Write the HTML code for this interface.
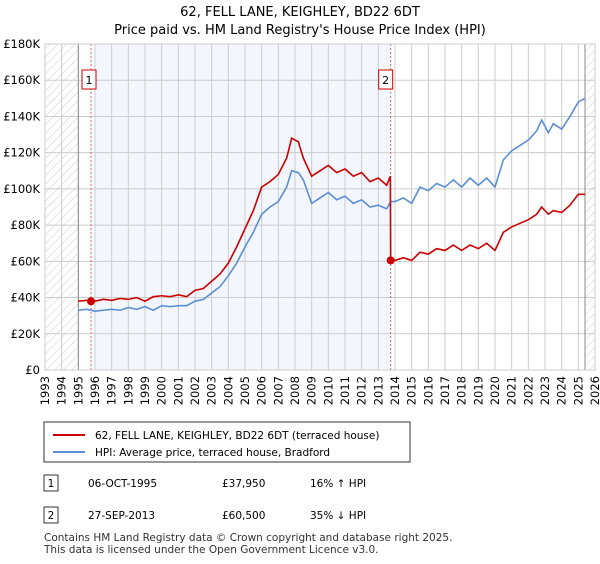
<!DOCTYPE html>
<html><head><meta charset="utf-8"><style>
body{margin:0;background:#fff;font-family:"DejaVu Sans","Liberation Sans",sans-serif;}
svg text{font-family:"DejaVu Sans","Liberation Sans",sans-serif;}
</style></head><body>
<svg id="c" width="600" height="560" xmlns="http://www.w3.org/2000/svg">
<defs><pattern id="h" width="6" height="6" patternUnits="userSpaceOnUse" patternTransform="rotate(45)"><line x1="0" y1="0" x2="0" y2="6" stroke="#ccc" stroke-width="1"/></pattern></defs>
<text x="300" y="16" text-anchor="middle" font-size="13">62, FELL LANE, KEIGHLEY, BD22 6DT</text>
<text x="300" y="34" text-anchor="middle" font-size="13">Price paid vs. HM Land Registry's House Price Index (HPI)</text>
<g id="plot"></g>
<g>
<rect x="44" y="422" width="366" height="40" fill="#fff" stroke="#333"/>
<line x1="53" y1="435" x2="85" y2="435" stroke="#cc0000" stroke-width="2"/>
<text x="95" y="439" font-size="10.5">62, FELL LANE, KEIGHLEY, BD22 6DT (terraced house)</text>
<line x1="53" y1="452" x2="85" y2="452" stroke="#5b8fd4" stroke-width="2"/>
<text x="95" y="456" font-size="10.5">HPI: Average price, terraced house, Bradford</text>
</g>
<g font-size="10.5">
<rect x="44" y="475" width="14" height="16" fill="#fff" stroke="#333"/><text x="51" y="487" text-anchor="middle">1</text>
<text x="88" y="487">06-OCT-1995</text><text x="222" y="487">£37,950</text><text x="310" y="487">16% ↑ HPI</text>
<rect x="44" y="507" width="14" height="16" fill="#fff" stroke="#333"/><text x="51" y="519" text-anchor="middle">2</text>
<text x="88" y="519">27-SEP-2013</text><text x="222" y="519">£60,500</text><text x="310" y="519">35% ↓ HPI</text>
</g>
<text x="44" y="541" font-size="10.5" fill="#333">Contains HM Land Registry data © Crown copyright and database right 2025.</text>
<text x="44" y="553" font-size="10.5" fill="#333">This data is licensed under the Open Government Licence v3.0.</text>
</svg>
<script>
const yTicks=[0,20,40,60,80,100,120,140,160,180];
const years=[1993,1994,1995,1996,1997,1998,1999,2000,2001,2002,2003,2004,2005,2006,2007,2008,2009,2010,2011,2012,2013,2014,2015,2016,2017,2018,2019,2020,2021,2022,2023,2024,2025,2026];
const hpiX=[1995,1995.5,1996,1996.5,1997,1997.5,1998,1998.5,1999,1999.5,2000,2000.5,2001,2001.5,2002,2002.5,2003,2003.5,2004,2004.5,2005,2005.5,2006,2006.5,2007,2007.5,2007.8,2008.2,2008.5,2009,2009.5,2010,2010.5,2011,2011.5,2012,2012.5,2013,2013.5,2013.74,2014,2014.5,2015,2015.5,2016,2016.5,2017,2017.5,2018,2018.5,2019,2019.5,2020,2020.5,2021,2021.5,2022,2022.5,2022.8,2023.2,2023.5,2024,2024.5,2025,2025.4];
const hpiY=[33,33.5,32.5,33,33.5,33,34.5,33.5,35,33,35.5,35,35.5,35.5,38,39,42.5,46,52,59,68,76,86,90,93,101,110,109,105,92,95,98,94,96,92,94,90,91,89,93,93,95,92,101,99,103,101,105,101,106,102,106,101,116,121,124,127,132,138,131,136,133,140,148,150];
const prX=[1995,1995.5,1995.76,1996,1996.5,1997,1997.5,1998,1998.5,1999,1999.5,2000,2000.5,2001,2001.5,2002,2002.5,2003,2003.5,2004,2004.5,2005,2005.5,2006,2006.5,2007,2007.5,2007.8,2008.2,2008.5,2009,2009.5,2010,2010.5,2011,2011.5,2012,2012.5,2013,2013.5,2013.72,2013.74,2014,2014.5,2015,2015.5,2016,2016.5,2017,2017.5,2018,2018.5,2019,2019.5,2020,2020.5,2021,2021.5,2022,2022.5,2022.8,2023.2,2023.5,2024,2024.5,2025,2025.4];
const prY=[38,38.5,37.95,38,39,38.5,39.5,39,40,38,40.5,41,40.5,41.5,40.5,44,45,49,53,59,68,78,88,101,104,108,117,128,126,117,107,110,113,109,111,107,109,104,106,102,107,60.5,60.5,62,60.5,65,64,67,66,69,66,69,67,70,66,76,79,81,83,86,90,86,88,87,91,97,97];
const sales=[{x:1995.76,y:37.95,l:'1'},{x:2013.74,y:60.5,l:'2'}];
const X0=45,X1=595,Y0=370,Y1=44;
const sx=v=>X0+(v-1993)/33*(X1-X0), sy=v=>Y0-v/180*(Y0-Y1);
const NS='http://www.w3.org/2000/svg',g=document.getElementById('plot');
function mk(t,a){const e=document.createElementNS(NS,t);for(const k in a)e.setAttribute(k,a[k]);g.appendChild(e);return e;}
let e;
e=mk('rect',{x:X0,y:Y1,width:X1-X0,height:Y0-Y1,fill:'#fff'});


e=mk('rect',{x:sx(1996),y:Y1,width:sx(2013.74)-sx(1996),height:Y0-Y1,fill:'#f3f6fd'});


e=mk('rect',{x:X0,y:Y1,width:sx(1995)-X0,height:Y0-Y1,fill:'url(#h)'});


e=mk('rect',{x:sx(2025.4),y:Y1,width:X1-sx(2025.4),height:Y0-Y1,fill:'url(#h)'});


yTicks.forEach(t=>{e=mk('line',{x1:X0,x2:X1,y1:sy(t),y2:sy(t),stroke:'#ccc'});


e=mk('text',{x:X0-5,y:sy(t)+4,'text-anchor':'end','font-size':'11.5'});e.textContent=t===0?'£0':'£'+t+'K';

});
years.forEach(yr=>{e=mk('line',{x1:sx(yr),x2:sx(yr),y1:Y1,y2:Y0,stroke:'#ccc'});


e=mk('text',{x:0,y:0,'text-anchor':'end','font-size':'11.5',transform:`translate(${sx(yr)+4},${Y0+6}) rotate(-90)`});e.textContent=yr;

});
e=mk('line',{x1:sx(1995),x2:sx(1995),y1:Y1,y2:Y0,stroke:'#888'});


e=mk('line',{x1:sx(2025.4),x2:sx(2025.4),y1:Y1,y2:Y0,stroke:'#888'});


sales.forEach(s=>{e=mk('line',{x1:sx(s.x),x2:sx(s.x),y1:Y1,y2:Y0,stroke:'#e06060','stroke-dasharray':'2,2'});


const bx=sx(s.x)-(s.l==='1'?9:12);
e=mk('rect',{x:bx,y:70,width:14,height:19,fill:'#fff',stroke:'#c00'});


e=mk('text',{x:bx+7,y:84,'text-anchor':'middle','font-size':'11'});e.textContent=s.l;

});
e=mk('polyline',{points:hpiX.map((x,i)=>sx(x)+','+sy(hpiY[i])).join(' '),fill:'none',stroke:'#5b8fd4','stroke-width':1.6});


e=mk('polyline',{points:prX.map((x,i)=>sx(x)+','+sy(prY[i])).join(' '),fill:'none',stroke:'#cc0000','stroke-width':1.6});


sales.forEach(s=>{e=mk('circle',{cx:sx(s.x),cy:sy(s.y),r:4,fill:'#cc0000'});

});
e=mk('rect',{x:X0,y:Y1,width:X1-X0,height:Y0-Y1,fill:'none',stroke:'#ccc'});


</script>
</body></html>
